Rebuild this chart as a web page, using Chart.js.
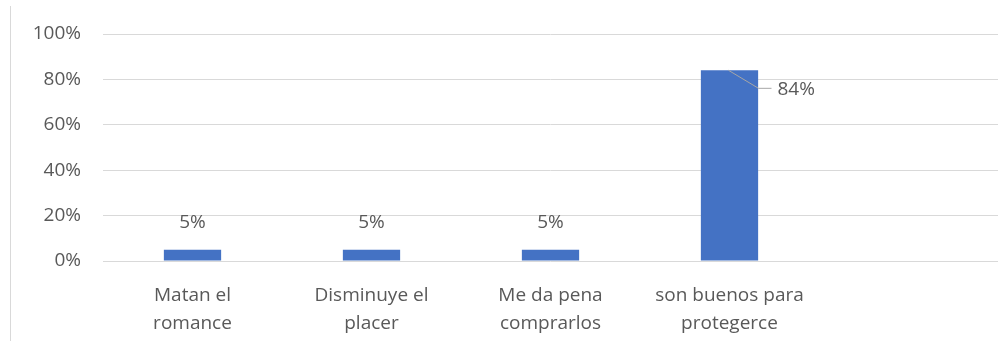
<!DOCTYPE html>
<html lang="es">
  <head>
    <meta charset="UTF-8" />
    <title>Opiniones</title>
    <script src="https://cdn.jsdelivr.net/npm/chart.js"></script>
    <style>
      * {
        box-sizing: border-box;
        padding: 0;
        margin: 0;
      }
      body {
        background: #fff;
      }
      div {
        width: 1007px;
        height: 341px;
      }
    </style>
  </head>
  <body>
    <div>
      <canvas id="myChart"></canvas>
    </div>
  </body>
  <script>
    // categories (last slot is empty in the plot)
    const categories = [
      ["Matan el", "romance"],
      ["Disminuye el", "placer"],
      ["Me da pena", "comprarlos"],
      ["son buenos para", "protegerce"],
      "",
    ];
    const percentages = [5, 5, 5, 84, null];
    const yTicks = [0, 20, 40, 60, 80, 100];

    const textColor = "#595959";
    const gridColor = "#d9d9d9";
    const fontFamily = "'Open Sans', sans-serif";

    // value labels on top of the bars, the last one pulled out with a leader line
    const barLabels = {
      id: "barLabels",
      afterDatasetsDraw(chart) {
        const c = chart.ctx;
        const meta = chart.getDatasetMeta(0);
        c.save();
        c.font = "19px " + fontFamily;
        c.fillStyle = textColor;
        c.textBaseline = "middle";
        meta.data.forEach((bar, i) => {
          const v = percentages[i];
          if (v == null) return;
          if (v > 50) {
            c.strokeStyle = "#a6a6a6";
            c.lineWidth = 1;
            c.beginPath();
            c.moveTo(bar.x - 1, bar.y);
            c.lineTo(bar.x + 29, bar.y + 18);
            c.lineTo(bar.x + 42, bar.y + 18);
            c.stroke();
            c.textAlign = "left";
            c.fillText(v + "%", bar.x + 48, bar.y + 19);
          } else {
            c.textAlign = "center";
            c.fillText(v + "%", bar.x, bar.y - 27);
          }
        });
        c.restore();
      },
    };

    // thin frame line down the left side
    const leftEdge = {
      id: "leftEdge",
      beforeDraw(chart) {
        const c = chart.ctx;
        c.save();
        c.strokeStyle = gridColor;
        c.lineWidth = 1;
        c.beginPath();
        c.moveTo(10.5, 6);
        c.lineTo(10.5, 341);
        c.stroke();
        c.restore();
      },
    };

    const ctx = document.getElementById("myChart").getContext("2d");
    const myChart = new Chart(ctx, {
      type: "bar",
      data: {
        labels: categories,
        datasets: [
          {
            data: percentages,
            backgroundColor: "#4472c4",
            borderWidth: 0,
            categoryPercentage: 0.32,
            barPercentage: 1,
          },
        ],
      },
      options: {
        responsive: true,
        maintainAspectRatio: false,
        animation: false,
        layout: {
          padding: { top: 34, right: 9, bottom: 0, left: 0 },
        },
        plugins: {
          legend: { display: false },
          tooltip: { enabled: false },
        },
        scales: {
          x: {
            grid: { display: false },
            border: { display: false },
            ticks: {
              color: textColor,
              font: { family: fontFamily, size: 19, lineHeight: 1.47 },
              maxRotation: 0,
              autoSkip: false,
              padding: 13,
            },
            afterFit(scale) {
              scale.height = 80;
            },
          },
          y: {
            min: 0,
            max: 100,
            afterBuildTicks(scale) {
              scale.ticks = yTicks.map((v) => ({ value: v }));
            },
            grid: { color: gridColor, drawTicks: false },
            border: { display: false },
            ticks: {
              color: textColor,
              font: { family: fontFamily, size: 19 },
              padding: 22,
              callback: (v) => v + "%",
            },
            afterFit(scale) {
              scale.width = 103;
            },
          },
        },
      },
      plugins: [leftEdge, barLabels],
    });
  </script>
</html>
